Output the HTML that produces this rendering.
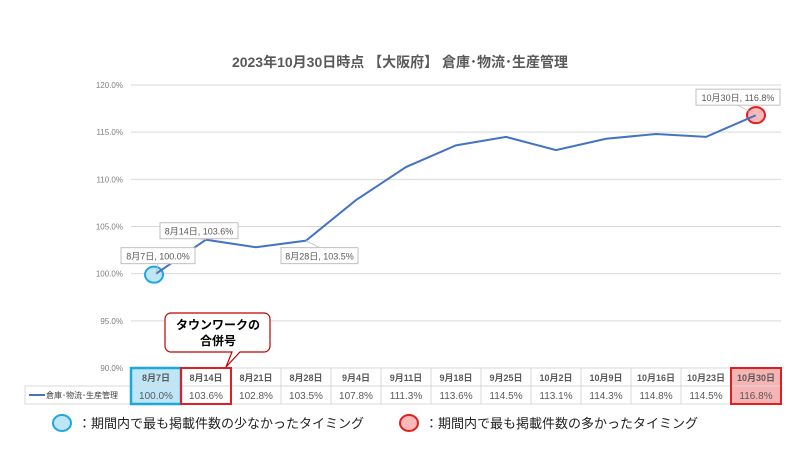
<!DOCTYPE html>
<html><head><meta charset="utf-8"><style>
body{margin:0;background:#fff;font-family:"Liberation Sans","Noto Sans CJK JP",sans-serif}
svg text{font-family:"Liberation Sans","Noto Sans CJK JP",sans-serif}
</style></head><body>
<svg width="800" height="450" xmlns="http://www.w3.org/2000/svg">
<text x="400" y="67" text-anchor="middle" font-size="14" font-weight="bold" fill="#595959">2023年10月30日時点 【大阪府】 倉庫･物流･生産管理</text>
<g id="grid"></g><g id="marks"></g><g id="table"></g>
<g>
<path d="M171,313 H264 a6,6 0 0 1 6,6 V346 a6,6 0 0 1 -6,6 H240 L226,367 L232,352 H171 a6,6 0 0 1 -6,-6 V319 a6,6 0 0 1 6,-6 Z" fill="#fff" stroke="#c00000" stroke-width="1.2"/>
<text x="218" y="329" text-anchor="middle" font-size="12" font-weight="bold" fill="#000">タウンワークの</text>
<text x="218" y="345" text-anchor="middle" font-size="12" font-weight="bold" fill="#000">合併号</text>
</g>
<g>
<ellipse cx="62" cy="423" rx="9" ry="8" fill="#bfe6f7" stroke="#1ea7dc" stroke-width="2"/>
<text x="78" y="428" font-size="13" fill="#222">：期間内で最も掲載件数の少なかったタイミング</text>
</g>
<g>
<ellipse cx="409" cy="423" rx="9" ry="8" fill="#f9b9b9" stroke="#e02020" stroke-width="2"/>
<text x="425" y="428" font-size="13" fill="#222">：期間内で最も掲載件数の多かったタイミング</text>
</g>
</svg>
<script>
const categories=["8月7日","8月14日","8月21日","8月28日","9月4日","9月11日","9月18日","9月25日","10月2日","10月9日","10月16日","10月23日","10月30日"];
const values=[100.0,103.6,102.8,103.5,107.8,111.3,113.6,114.5,113.1,114.3,114.8,114.5,116.8];
const ticks=[90,95,100,105,110,115,120];
const NS="http://www.w3.org/2000/svg";
const x0=131,cw=50,yTop=85,yBot=368,ymin=90,ymax=120;
const xs=i=>x0+cw/2+i*cw;
const ys=v=>yBot-(v-ymin)/(ymax-ymin)*(yBot-yTop);
function mk(p,t,a){const e=document.createElementNS(NS,t);for(const k in a)e.setAttribute(k,a[k]);p.appendChild(e);return e;}
const grid=document.getElementById('grid'),marks=document.getElementById('marks'),tbl=document.getElementById('table');
ticks.forEach(t=>{
 const l=mk(grid,'line',{x1:x0,x2:x0+cw*categories.length,y1:ys(t),y2:ys(t),stroke:'#d9d9d9','stroke-width':1});
 
 
 const tx=mk(grid,'text',{x:123,y:ys(t)+3,'text-anchor':'end','font-size':8,fill:'#7f7f7f'});
 tx.textContent=t.toFixed(1)+'%';
 
 
});
const minI=values.indexOf(Math.min(...values)),maxI=values.indexOf(Math.max(...values));
const c1=mk(marks,'ellipse',{cx:xs(minI)-2,cy:ys(values[minI])+1,rx:9,ry:8,fill:'#bfe6f7',stroke:'#1ea7dc','stroke-width':2});


const c2=mk(marks,'ellipse',{cx:xs(maxI),cy:ys(values[maxI]),rx:9,ry:8,fill:'#f9b9b9',stroke:'#e02020','stroke-width':2});


const line=mk(marks,'polyline',{points:values.map((v,i)=>xs(i)+','+ys(v)).join(' '),fill:'none',stroke:'#4472c4','stroke-width':2});


const labels=[[0,-35,-26,74],[1,-46,-17,78],[3,-25,7,77],[12,-60,-26,84]];
labels.forEach(([i,dx,dy,w])=>{
 const g=mk(marks,'g',{});
 
 
 const bx=xs(i)+dx,by=ys(values[i])+dy;
 mk(g,'line',{x1:xs(i),y1:ys(values[i]),x2:bx+w/2,y2:by+(dy<0?16:0),stroke:'#bfbfbf','stroke-width':0.8});
 mk(g,'rect',{x:bx,y:by,width:w,height:16,fill:'#fff',stroke:'#bfbfbf'});
 const t=mk(g,'text',{x:bx+w/2,y:by+12,'text-anchor':'middle','font-size':9,fill:'#595959'});
 t.textContent=categories[i]+', '+values[i].toFixed(1)+'%';
});
const rh=18,ty=368,lx=25;
mk(tbl,'rect',{x:lx,y:ty+rh,width:x0-lx,height:rh,fill:'#fff',stroke:'#d9d9d9'});
mk(tbl,'line',{x1:29,x2:45,y1:ty+rh*1.5,y2:ty+rh*1.5,stroke:'#4472c4','stroke-width':2});
const lt=mk(tbl,'text',{x:46,y:ty+rh*1.5+3,'font-size':8,fill:'#404040'});
lt.textContent='倉庫･物流･生産管理';


categories.forEach((c,i)=>{
 const x=x0+i*cw;
 const fill=i===minI?'#bfe6f7':(i===maxI?'#f7b4b4':'#fff');
 mk(tbl,'rect',{x:x,y:ty,width:cw,height:rh*2,fill:fill,stroke:'#d9d9d9'});
 mk(tbl,'line',{x1:x,x2:x+cw,y1:ty+rh,y2:ty+rh,stroke:'#d9d9d9'});
 const h=mk(tbl,'text',{x:x+cw/2,y:ty+13,'text-anchor':'middle','font-size':9,'font-weight':'bold',fill:'#595959'});
 h.textContent=c;
 
 
 const v=mk(tbl,'text',{x:x+cw/2,y:ty+rh+13,'text-anchor':'middle','font-size':10,fill:'#595959'});
 v.textContent=values[i].toFixed(1)+'%';
 
 
});
mk(tbl,'rect',{x:x0+minI*cw,y:ty,width:cw,height:rh*2,fill:'none',stroke:'#1ea7dc','stroke-width':2.5});
mk(tbl,'rect',{x:x0+1*cw,y:ty,width:cw,height:rh*2,fill:'none',stroke:'#e02020','stroke-width':2});
mk(tbl,'rect',{x:x0+maxI*cw,y:ty,width:cw,height:rh*2,fill:'none',stroke:'#e02020','stroke-width':2});
</script>
</body></html>
